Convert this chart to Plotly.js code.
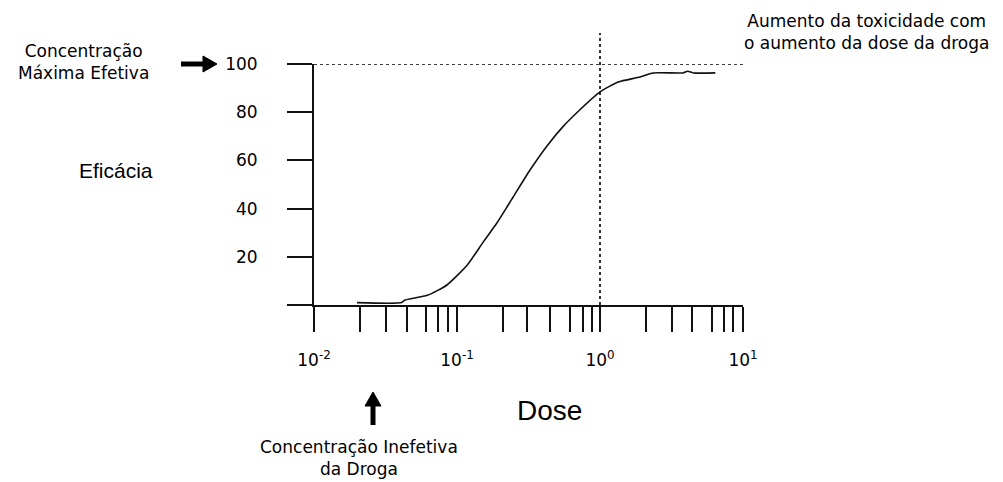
<!DOCTYPE html>
<html>
<head>
<meta charset="utf-8">
<script src="https://cdn.plot.ly/plotly-3.0.1.min.js"></script>
<style>html,body{margin:0;padding:0;background:#fff;}#chart{width:1003px;height:482px;}</style>
</head>
<body>
<div id="chart"></div>
<script>
// ---- data ----
const dose   = [0.02, 0.041, 0.043, 0.062, 0.085, 0.118, 0.152, 0.19, 0.228, 0.247, 0.324, 0.426, 0.551, 0.724, 1.0, 1.34, 1.9, 2.35, 3.8, 4.1, 4.5, 6.4];
const effect = [1, 1, 2, 4, 8.3, 16.6, 26, 34, 41.5, 44.8, 56, 66, 74, 81, 88.4, 92.5, 94.6, 96.3, 96.3, 97, 96.3, 96.3];

const decadeVals   = [0.01, 0.1, 1, 10];
const decadeLabels = ['10<sup>-2</sup>', '10<sup>-1</sup>', '10<sup>0</sup>', '10<sup>1</sup>'];
const minorXTickVals = [0.021, 0.032, 0.045, 0.061, 0.074, 0.087, 0.21, 0.31, 0.45, 0.62, 0.76, 0.88, 2.1, 3.2, 4.4, 6.1, 7.4, 8.5];
const yTickVals = [20, 40, 60, 80, 100];
const yTickText = ['20', '40', '60', '80', '100'];
const minorYTickVals = [0];

const maxEffective = 100;   // Concentração Máxima Efetiva
const toxicDose = 1;        // Aumento da toxicidade

// ---- layout helpers (pixel -> paper) ----
const W = 1003, H = 482;
const M = {l: 314, r: 260, t: 64, b: 177};
const PW = W - M.l - M.r, PH = H - M.t - M.b;
const px = x => (x - M.l) / PW;
const py = y => (H - M.b - y) / PH;

const ink = '#111';
const smallFont = {family: 'DejaVu Sans, sans-serif', size: 17, color: '#000'};

const trace = {
  x: dose, y: effect, type: 'scatter', mode: 'lines',
  line: {color: ink, width: 1.6, shape: 'spline', smoothing: 0.6},
  hoverinfo: 'skip', showlegend: false
};

// arrow shapes (shaft + head) in paper coords
function arrowRight(x0, x1, y) {
  return [
    {type: 'line', xref: 'paper', yref: 'paper', x0: px(x0), x1: px(x1 - 10), y0: py(y), y1: py(y), line: {color: '#000', width: 5}},
    {type: 'path', xref: 'paper', yref: 'paper', fillcolor: '#000', line: {color: '#000', width: 1},
     path: `M ${px(x1)} ${py(y)} L ${px(x1 - 14)} ${py(y - 8)} L ${px(x1 - 14)} ${py(y + 8)} Z`}
  ];
}
function arrowUp(x, y0, y1) {
  return [
    {type: 'line', xref: 'paper', yref: 'paper', x0: px(x), x1: px(x), y0: py(y0), y1: py(y1 + 10), line: {color: '#000', width: 5}},
    {type: 'path', xref: 'paper', yref: 'paper', fillcolor: '#000', line: {color: '#000', width: 1},
     path: `M ${px(x)} ${py(y1)} L ${px(x - 8)} ${py(y1 + 14)} L ${px(x + 8)} ${py(y1 + 14)} Z`}
  ];
}

const layout = {
  width: W, height: H,
  margin: M,
  paper_bgcolor: '#fff', plot_bgcolor: '#fff',
  showlegend: false,
  xaxis: {
    type: 'log', range: [-2, 1],
    tickmode: 'array', tickvals: decadeVals, ticktext: decadeLabels,
    ticks: 'outside', ticklen: 25, tickwidth: 2, tickcolor: ink,
    minor: {tickmode: 'array', tickvals: minorXTickVals, ticks: 'outside', ticklen: 25, tickwidth: 2, tickcolor: ink, showgrid: false},
    showline: true, linewidth: 2, linecolor: ink,
    showgrid: false, zeroline: false,
    ticklabelstandoff: 14,
    tickfont: smallFont
  },
  yaxis: {
    range: [0, 100],
    tickmode: 'array', tickvals: yTickVals, ticktext: yTickText,
    ticks: 'outside', ticklen: 25, tickwidth: 2, tickcolor: ink,
    minor: {tickmode: 'array', tickvals: minorYTickVals, ticks: 'outside', ticklen: 25, tickwidth: 2, tickcolor: ink, showgrid: false},
    showline: true, linewidth: 2, linecolor: ink,
    showgrid: false, zeroline: false,
    ticklabelstandoff: 26,
    tickfont: smallFont
  },
  shapes: [
    {type: 'line', xref: 'x', yref: 'y', x0: decadeVals[0], x1: decadeVals[decadeVals.length - 1],
     y0: maxEffective, y1: maxEffective, line: {color: '#000', width: 1.6, dash: 'dot'}, layer: 'above'},
    {type: 'line', xref: 'x', yref: 'paper', x0: toxicDose, x1: toxicDose,
     y0: 0, y1: py(33), line: {color: '#000', width: 1.6, dash: 'dot'}, layer: 'above'},
    ...arrowRight(181, 217, 64),
    ...arrowUp(373, 425, 392)
  ],
  annotations: [
    {xref: 'paper', yref: 'paper', x: px(116), y: py(170), text: 'Eficácia', showarrow: false,
     xanchor: 'center', yanchor: 'middle', font: {family: 'Liberation Sans, Arial, sans-serif', size: 21, color: '#000'}},
    {xref: 'paper', yref: 'paper', x: px(549), y: py(410), text: 'Dose', showarrow: false,
     xanchor: 'center', yanchor: 'middle', font: {family: 'Liberation Sans, Arial, sans-serif', size: 28, color: '#000'}},
    {xref: 'paper', yref: 'paper', x: px(83), y: py(62), text: 'Concentração<br>Máxima Efetiva', showarrow: false,
     xanchor: 'center', yanchor: 'middle', font: smallFont},
    {xref: 'paper', yref: 'paper', x: px(866), y: py(32), text: 'Aumento da toxicidade com<br>o aumento da dose da droga', showarrow: false,
     xanchor: 'center', yanchor: 'middle', font: smallFont},
    {xref: 'paper', yref: 'paper', x: px(359), y: py(458), text: 'Concentração Inefetiva<br>da Droga', showarrow: false,
     xanchor: 'center', yanchor: 'middle', font: smallFont}
  ]
};

Plotly.newPlot('chart', [trace], layout, {staticPlot: true, displayModeBar: false});
</script>
</body>
</html>
